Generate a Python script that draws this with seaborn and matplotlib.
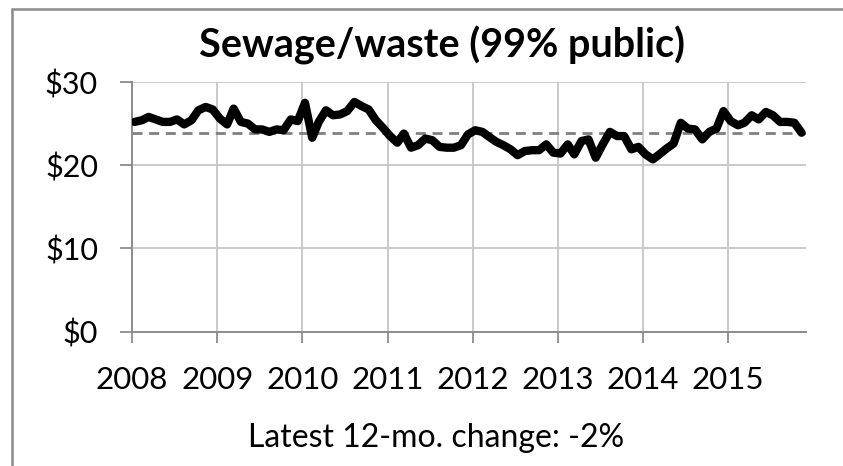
import matplotlib
matplotlib.use("Agg")
import matplotlib.pyplot as plt
import matplotlib.dates as mdates
from matplotlib.lines import Line2D
import seaborn as sns
import pandas as pd

# ---- data (monthly, Jan 2008 - Nov 2015) ----
title = "Sewage/waste (99% public)"
caption = "Latest 12-mo. change: -2%"
start_month = "2008-01-01"
values = [
    25.2, 25.4, 25.8, 25.5, 25.2, 25.2, 25.5, 24.9, 25.4, 26.6, 27.0, 26.7,   # 2008
    25.6, 24.9, 26.8, 25.2, 25.0, 24.3, 24.3, 24.0, 24.3, 24.2, 25.5, 25.3,   # 2009
    27.5, 23.3, 25.2, 26.6, 26.0, 26.1, 26.5, 27.6, 27.1, 26.7, 25.4, 24.5,   # 2010
    23.5, 22.7, 23.8, 22.1, 22.4, 23.2, 23.0, 22.2, 22.1, 22.1, 22.4, 23.7,   # 2011
    24.2, 24.0, 23.4, 22.8, 22.4, 21.9, 21.2, 21.7, 21.8, 21.8, 22.5, 21.5,   # 2012
    21.4, 22.5, 21.3, 22.9, 23.1, 20.9, 22.5, 24.0, 23.5, 23.5, 21.9, 22.2,   # 2013
    21.3, 20.7, 21.3, 22.0, 22.6, 25.1, 24.4, 24.3, 23.1, 24.0, 24.4, 26.5,   # 2014
    25.3, 24.8, 25.1, 26.0, 25.5, 26.4, 26.0, 25.2, 25.2, 25.1, 23.9,         # 2015
]
average = 23.9
y_ticks = [0, 10, 20, 30]
y_tick_labels = ["$0", "$10", "$20", "$30"]
year_ticks = list(range(2008, 2016))

dates = pd.date_range(start_month, periods=len(values), freq="MS") + pd.Timedelta(days=11)
df = pd.DataFrame({"date": dates, "value": values})

sns.set_theme(style="white")
plt.rcParams["font.family"] = ["Lato", "DejaVu Sans"]

W, H = 843, 466
fig = plt.figure(figsize=(W / 100, H / 100), dpi=100)
ax = fig.add_axes([132 / W, 1 - 331.5 / H, (806 - 132) / W, (331.5 - 82) / H])

grid_c = "#c6c6c6"
axis_c = "#8c8c8c"

ax.axhline(average, color="#808080", lw=2.0, ls=(0, (3.6, 2.4)), zorder=2)
sns.lineplot(data=df, x="date", y="value", ax=ax, color="black", lw=6.0,
             solid_capstyle="round", solid_joinstyle="round", zorder=3)

ax.set_ylim(0, 30)
ax.set_xlim(pd.Timestamp("2008-01-01"), pd.Timestamp("2015-12-01"))
ax.set_yticks(y_ticks)
ax.set_yticklabels(y_tick_labels)
ax.set_xticks([pd.Timestamp(f"{y}-01-01") for y in year_ticks])
ax.xaxis.set_major_formatter(mdates.DateFormatter("%Y"))
ax.set_xlabel("")
ax.set_ylabel("")

ax.grid(True, color=grid_c, lw=1.3, zorder=0)
for s in ["top", "right"]:
    ax.spines[s].set_visible(False)
ax.spines["left"].set_color(axis_c)
ax.spines["left"].set_linewidth(1.4)
ax.spines["bottom"].set_color(axis_c)
ax.spines["bottom"].set_linewidth(1.4)

ax.tick_params(axis="y", length=8.5, width=1.3, color=axis_c, pad=16,
               labelsize=22, labelcolor="black", left=True)
ax.tick_params(axis="x", length=8, width=1.3, color=axis_c, pad=17,
               labelsize=22.5, labelcolor="black", bottom=True, direction="out")

fig.text(442 / W, 1 - 45 / H, title, ha="center", va="center",
         fontsize=28.5, fontweight="bold", color="black")
fig.text(436 / W, 1 - 438 / H, caption, ha="center", va="center",
         fontsize=23, color="black")

# outer chart frame (top and left edges visible)
fig.add_artist(Line2D([12 / W, 12 / W], [0, 1 - 9 / H], transform=fig.transFigure,
                      color="#8c8c8c", lw=1.8))
fig.add_artist(Line2D([12 / W, 1], [1 - 9 / H, 1 - 9 / H], transform=fig.transFigure,
                      color="#8c8c8c", lw=1.8))

fig.savefig("out.png", dpi=100, facecolor="white")
